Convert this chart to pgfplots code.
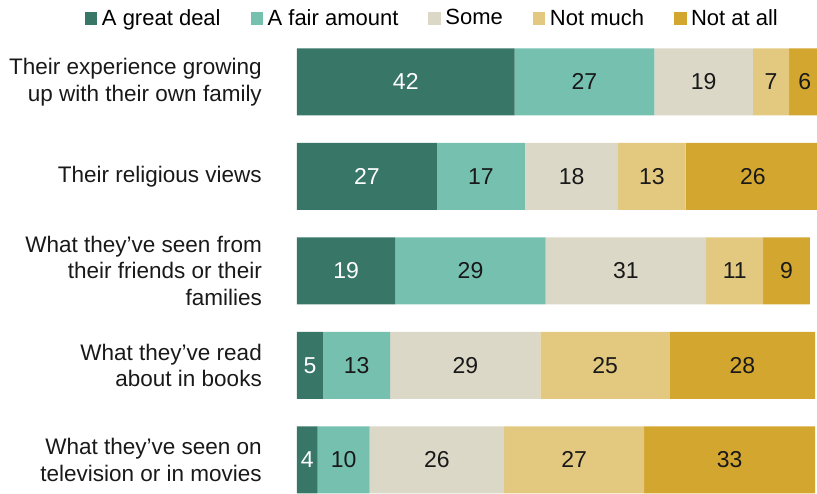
\documentclass[border=0pt]{standalone}
\usepackage{pgfplots}
\pgfplotsset{compat=1.18}
\usepackage{pgfplotstable}
\usepackage{fontspec}
\setmainfont{Liberation Sans}
\definecolor{cA}{HTML}{387667}
\definecolor{cB}{HTML}{76C0B0}
\definecolor{cC}{HTML}{DBD8C7}
\definecolor{cD}{HTML}{E3C980}
\definecolor{cE}{HTML}{D3A630}
\pgfplotstableread{
y x
0 42
1 27
2 19
3 5
4 4
}\tA
\pgfplotstableread{
y x
0 27
1 17
2 29
3 13
4 10
}\tB
\pgfplotstableread{
y x
0 19
1 18
2 31
3 29
4 26
}\tC
\pgfplotstableread{
y x
0 7
1 13
2 11
3 25
4 27
}\tD
\pgfplotstableread{
y x
0 6
1 26
2 9
3 28
4 33
}\tE
\begin{document}
\begin{tikzpicture}
\path[use as bounding box] (0,0) rectangle (817pt,493pt);
\begin{axis}[
  at={(297pt,0pt)}, anchor=south west,
  scale only axis, width=523.2pt, height=458.3pt,
  xbar stacked, bar width=67pt,
  xmin=0, xmax=101, ymin=-0.5, ymax=4.35, y dir=reverse,
  clip=true,
  axis line style={draw=none},
  major tick length=0pt,
  xtick=\empty,
  ytick={0,1,2,3,4},
  yticklabels={{Their experience growing\\up with their own family},{Their religious views},{What they’ve seen from\\their friends or their\\families},{What they've read\\about in books},{What they've seen on\\television or in movies}},
  yticklabel style={anchor=east, align=right, inner sep=0pt, xshift=-35pt, font=\fontsize{22.5}{26.7}\selectfont, text=black!90},
  /pgf/number format/assume math mode=true,
  point meta=explicit,
  nodes near coords={\pgfmathprintnumber{\pgfplotspointmeta}},
  every node near coord/.append style={anchor=center, font=\fontsize{23}{26}\selectfont, text=black!90},
  legend columns=5,
  legend style={at={(axis description cs:-0.4052,1.0364)}, anchor=west, draw=none, fill=none,
    font=\fontsize{22}{24}\selectfont, inner sep=0pt, outer sep=0pt,
    /tikz/every even column/.append style={column sep=28pt},
    cells={anchor=west, inner xsep=3pt}},
  legend image code/.code={\fill[#1] (0pt,-6.5pt) rectangle (12.5pt,6.5pt); \path (15pt,0pt);},
]
\addplot+[fill=cA, draw=none, every node near coord/.append style={text=white}] table[x=x, y=y, meta=x] {\tA};
\addplot+[fill=cB, draw=none] table[x=x, y=y, meta=x] {\tB};
\addplot+[fill=cC, draw=none] table[x=x, y=y, meta=x] {\tC};
\addplot+[fill=cD, draw=none] table[x=x, y=y, meta=x] {\tD};
\addplot+[fill=cE, draw=none] table[x=x, y=y, meta=x] {\tE};
\legend{A great deal, A fair amount, Some, Not much, Not at all}
\end{axis}
\end{tikzpicture}
\end{document}
